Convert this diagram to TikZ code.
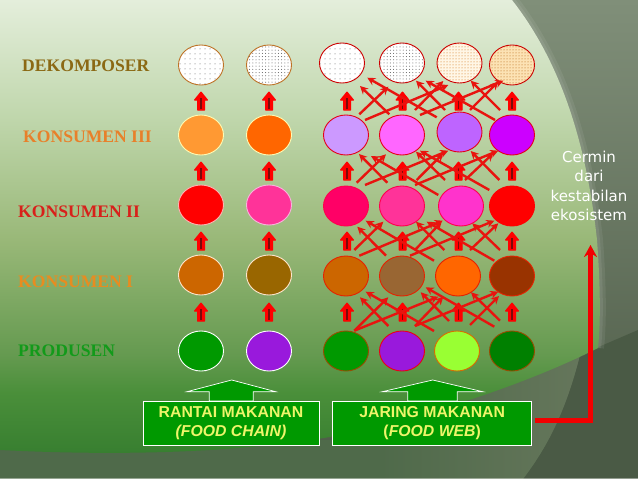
\documentclass[tikz,border=0pt]{standalone}
\usepackage{fontspec}
\setmainfont{Liberation Serif}
\newfontfamily\boxfont{Liberation Sans}
\newfontfamily\notefont{DejaVu Sans}
\usetikzlibrary{shapes.geometric,patterns.meta,calc,arrows.meta}
\definecolor{bga}{HTML}{E4EEDB}
\definecolor{bgb}{HTML}{BFD6AB}
\definecolor{bgc}{HTML}{99B878}
\definecolor{bgd}{HTML}{659A50}
\definecolor{bge}{HTML}{4A8F3A}
\definecolor{bgf}{HTML}{30782C}
\definecolor{panelTop}{HTML}{808F79}
\definecolor{panelBot}{HTML}{4C5A46}
\definecolor{lowL}{HTML}{4F6A4A}
\definecolor{lowM}{HTML}{65765B}
\definecolor{lowR}{HTML}{4A5A45}
\definecolor{webred}{HTML}{E8140F}
\definecolor{boxgreen}{HTML}{009900}
\definecolor{boxtext}{HTML}{EEF56A}
\definecolor{darkcore}{HTML}{7A0A0A}
\pgfdeclareverticalshading{bgshade}{100bp}{
  color(0bp)=(bgf);color(25bp)=(bgf);color(34bp)=(bge);color(38bp)=(bgd);color(50bp)=(bgc);color(62.5bp)=(bgb);color(75bp)=(bga);color(100bp)=(bga)}
\tikzset{
  x=1pt,y=-1pt,
  blob/.style={ellipse,minimum width=45pt,minimum height=40pt,inner sep=0pt,line width=0.9pt},
  level/.style={font=\bfseries\fontsize{17.6}{18}\selectfont,anchor=west,inner sep=0pt},
  web/.style={draw=webred,line width=2.4pt,-{Stealth[length=8pt,width=8pt]}},
  up/.style={fill=red,draw=red,line width=1pt,line join=round},
  infobox/.style={draw=white,fill=boxgreen,line width=0.8pt,align=center,text=boxtext,
    font=\boxfont\bfseries\fontsize{15.8}{19.5}\selectfont,inner sep=0pt},
  callout/.style={draw=white,fill=boxgreen,line width=0.7pt,line join=miter},
  note/.style={text=white,align=center,font=\notefont\fontsize{15}{19.3}\selectfont,inner sep=0pt},
}
\newcommand{\blockup}[2]{% x, top y
  \fill[up] (#1,#2) -- (#1+6.5,#2+8) -- (#1+3.5,#2+8) -- (#1+3.5,#2+18) -- (#1-3.5,#2+18) -- (#1-3.5,#2+8) -- (#1-6.5,#2+8) -- cycle;
  \draw[darkcore,line width=1.6pt] (#1,#2+6) -- (#1,#2+17);}
\newcommand{\lnk}[6]{\draw[web] ($(#1)+(#2,#3)$) -- ($(#4)+(#5,#6)$);}
\newcommand{\dotpat}[3]{% node, colour, distance
  \fill[pattern={Dots[radius=0.5pt,distance=#3pt]},pattern color=#2] (#1.center) ellipse [x radius=22pt,y radius=19.5pt];}
\begin{document}
\begin{tikzpicture}
\useasboundingbox (0,0) rectangle (638,479);
% right panel
\shade[top color=panelTop,bottom color=panelBot] (0,0) rectangle (638,479);
% lower area
\fill[lowL] (0,440) rectangle (560,479);
\fill[lowR] (580,355) -- (638,330) -- (638,479) -- (523,479) .. controls (545,450) and (565,415) .. cycle;
\shade[left color=lowL,right color=lowM] (380,410) -- (580,355) .. controls (565,415) and (545,450) .. (523,479) -- (380,479) -- cycle;
% soft rim of the light area
\draw[white,opacity=0.07,line width=12pt] (512,0) .. controls (555,55) and (585,130) .. (597,240) .. controls (600,280) and (601,320) .. (598,348);
\draw[white,opacity=0.08,line width=6pt] (512,0) .. controls (555,55) and (585,130) .. (597,240) .. controls (600,280) and (601,320) .. (598,348);
% light main area
\begin{scope}
\clip (0,0) -- (512,0) .. controls (555,55) and (585,130) .. (597,240) .. controls (600,280) and (601,320) .. (598,348)
  .. controls (545,375) and (450,412) .. (330,437) .. controls (220,455) and (100,455) .. (0,450) -- cycle;
\shade[shading=bgshade] (0,0) rectangle (638,479);
\end{scope}
\fill[white,opacity=0.4] (0,477.5) rectangle (638,479);
% labels
\node[level,text={rgb,255:red,139;green,105;blue,20}] (lblD) at (22,66) {DEKOMPOSER};
\node[level,text={rgb,255:red,232;green,128;blue,42}] (lblK3) at (23,137) {KONSUMEN III};
\node[level,text={rgb,255:red,216;green,32;blue,26}] (lblK2) at (18,212) {KONSUMEN II};
\node[level,text={rgb,255:red,232;green,140;blue,32}] (lblK1) at (18,282) {KONSUMEN I};
\node[level,text={rgb,255:red,18;green,154;blue,26}] (lblP) at (18,351) {PRODUSEN};
% chain circles
\node[blob,draw=orange!70!black!85,fill=white] (c01) at (201,65) {};
\node[blob,draw=orange!70!black!85,fill=white] (c02) at (269,65) {};
\node[blob,draw=yellow!30!white,fill={rgb,255:red,255;green,153;blue,51}] (c11) at (201,135) {};
\node[blob,draw=yellow!30!white,fill={rgb,255:red,255;green,102;blue,0}] (c12) at (269,135) {};
\node[blob,draw=white!70!red,fill=red] (c21) at (201,205) {};
\node[blob,draw=white!70!magenta,fill={rgb,255:red,255;green,51;blue,153}] (c22) at (269,205) {};
\node[blob,draw=white!80!orange,fill={rgb,255:red,204;green,102;blue,0}] (c31) at (201,275) {};
\node[blob,draw=white!80!orange,fill={rgb,255:red,153;green,102;blue,0}] (c32) at (269,275) {};
\node[blob,draw=white,fill={rgb,255:red,0;green,153;blue,0}] (c41) at (201,351) {};
\node[blob,draw=white,fill={rgb,255:red,153;green,25;blue,220}] (c42) at (269,351) {};
\dotpat{c01}{black!65}{5}
\dotpat{c02}{black!65}{3.2}
% web circles
\tikzset{bd0/.style={blob,draw=red!80!black}}
\node[bd0,fill=white] (w01) at (342,63) {};
\node[bd0,fill=white] (w02) at (402,63) {};
\node[bd0,fill={rgb,255:red,255;green,246;blue,230}] (w03) at (459.5,63) {};
\node[bd0,fill={rgb,255:red,252;green,226;blue,180}] (w04) at (512,65) {};
\dotpat{w01}{black!65}{5}
\dotpat{w02}{black!65}{3.2}
\dotpat{w03}{orange!80!black}{3}
\dotpat{w04}{orange!70!black}{3}
\tikzset{bd1/.style={blob,draw=red!60!purple}}
\node[bd1,fill={rgb,255:red,204;green,153;blue,255}] (w11) at (346,135) {};
\node[bd1,fill={rgb,255:red,255;green,102;blue,255}] (w12) at (402,135) {};
\node[bd1,fill={rgb,255:red,190;green,100;blue,255}] (w13) at (459.5,132) {};
\node[bd1,fill={rgb,255:red,204;green,0;blue,255}] (w14) at (512,135) {};
\tikzset{bd2/.style={blob,draw=red!70!magenta}}
\node[bd2,fill={rgb,255:red,255;green,0;blue,102}] (w21) at (346,206) {};
\node[bd2,fill={rgb,255:red,255;green,51;blue,153}] (w22) at (402,206) {};
\node[bd2,fill={rgb,255:red,255;green,51;blue,204}] (w23) at (461,206) {};
\node[bd2,draw=red,fill=red] (w24) at (512,206) {};
\tikzset{bd3/.style={blob,draw=red!70!orange!90!black}}
\node[bd3,fill={rgb,255:red,204;green,102;blue,0}] (w31) at (346,276) {};
\node[bd3,fill={rgb,255:red,153;green,102;blue,51}] (w32) at (402,276) {};
\node[bd3,fill={rgb,255:red,255;green,102;blue,0}] (w33) at (458,276) {};
\node[bd3,fill={rgb,255:red,153;green,51;blue,0}] (w34) at (512,276) {};
\tikzset{bd4/.style={blob,draw=orange!60!black}}
\node[bd4,fill={rgb,255:red,0;green,153;blue,0}] (w41) at (346,351) {};
\node[bd4,draw=red!70!purple,fill={rgb,255:red,153;green,25;blue,220}] (w42) at (402,351) {};
\node[bd4,draw=orange!85!black,fill={rgb,255:red,153;green,255;blue,51}] (w43) at (457,351) {};
\node[bd4,fill={rgb,255:red,0;green,128;blue,0}] (w44) at (512,351) {};
% vertical arrows
\foreach \yy in {92,162,232,303}{
  \foreach \xx in {201,269,347,402.5,458.5,512}{\blockup{\xx}{\yy}}}
% web links
\lnk{w11}{13.3}{-20.7}{w02}{-13.7}{23.7}
\lnk{w12}{-12.7}{-20.7}{w01}{18}{23}
\lnk{w11}{19}{-15}{w03}{-11.2}{22}
\lnk{w13}{-22.8}{-14.7}{w01}{25.3}{14.7}
\lnk{w12}{13}{-25}{w03}{-16.2}{18}
\lnk{w13}{-14.5}{-22}{w02}{14}{17.7}
\lnk{w12}{18}{-20}{w04}{-8.7}{15.7}
\lnk{w14}{-17}{-15}{w02}{23.7}{17.7}
\lnk{w13}{10.5}{-22}{w04}{-13.7}{16.7}
\lnk{w14}{-12}{-25}{w03}{11.2}{17.7}
\lnk{w21}{10.7}{-23.3}{w12}{-16}{19.3}
\lnk{w22}{-14.7}{-23.3}{w11}{13}{19}
\lnk{w21}{19}{-21}{w13}{-11.2}{18.7}
\lnk{w23}{-22.7}{-11}{w11}{25}{21}
\lnk{w22}{14.7}{-26}{w13}{-16.2}{21.3}
\lnk{w23}{-16}{-26}{w12}{14}{16.7}
\lnk{w22}{13}{-21}{w14}{-13.7}{15.7}
\lnk{w24}{-22.7}{-16}{w12}{18}{15.7}
\lnk{w23}{4}{-26}{w14}{-18.7}{18.3}
\lnk{w24}{-12.7}{-26}{w13}{11.2}{19}
\lnk{w31}{8.3}{-26}{w22}{-18.7}{15.7}
\lnk{w32}{-16}{-20.3}{w21}{11.3}{20.7}
\lnk{w31}{13.3}{-20.3}{w23}{-18.3}{14.7}
\lnk{w33}{-24}{-15.3}{w21}{19.7}{14.7}
\lnk{w32}{13}{-26}{w23}{-19.3}{15.7}
\lnk{w33}{-13.7}{-26}{w22}{14}{15.7}
\lnk{w32}{8}{-20.3}{w24}{-17.7}{14.7}
\lnk{w34}{-17.7}{-15.3}{w22}{24.7}{15.7}
\lnk{w33}{12}{-26}{w24}{-13.7}{17.3}
\lnk{w34}{-12}{-26}{w23}{11.3}{17.3}
\lnk{w41}{8.3}{-20.3}{w33}{-19.7}{20.7}
\lnk{w42}{-13.7}{-25}{w31}{14}{21.3}
\lnk{w41}{8.3}{-20.3}{w32}{-13.7}{21.3}
\lnk{w43}{-23}{-20}{w31}{19.7}{15.7}
\lnk{w42}{13}{-25}{w33}{-14.7}{20.7}
\lnk{w43}{-8}{-30}{w32}{18.7}{16.3}
\lnk{w42}{13}{-25}{w34}{-13.7}{15.7}
\lnk{w44}{-17.7}{-24.3}{w32}{23.7}{11.3}
\lnk{w43}{13}{-26}{w34}{-13}{20}
\lnk{w44}{-12}{-30.3}{w33}{13}{16.3}
% callouts and boxes
\draw[callout] (187,391.7) -- (231.7,380) -- (275.7,391.7) -- (253.3,391.7) -- (253.3,401) -- (209.3,401) -- (209.3,391.7) -- cycle;
\draw[callout] (382.3,391.7) -- (432.7,380) -- (482.7,391.7) -- (457.3,391.7) -- (457.3,401) -- (407.7,401) -- (407.7,391.7) -- cycle;
\node[infobox,minimum width=176pt,minimum height=44pt] (chain) at (231,423.3) {RANTAI MAKANAN\\\textit{(FOOD CHAIN)}};
\node[infobox,minimum width=199pt,minimum height=44pt] (foodweb) at (432.2,423.3) {JARING MAKANAN\\(\textit{FOOD WEB})};
\node[note] (mirror) at (589,186) {Cermin\\dari\\kestabilan\\ekosistem};
\coordinate (tip) at (590.5,245);
\draw[red!95!black,line width=4.5pt,line join=miter,-{Stealth[length=12pt,width=13pt]}] ($(foodweb.east)+(3,-3)$) -| (tip);
\end{tikzpicture}
\end{document}
